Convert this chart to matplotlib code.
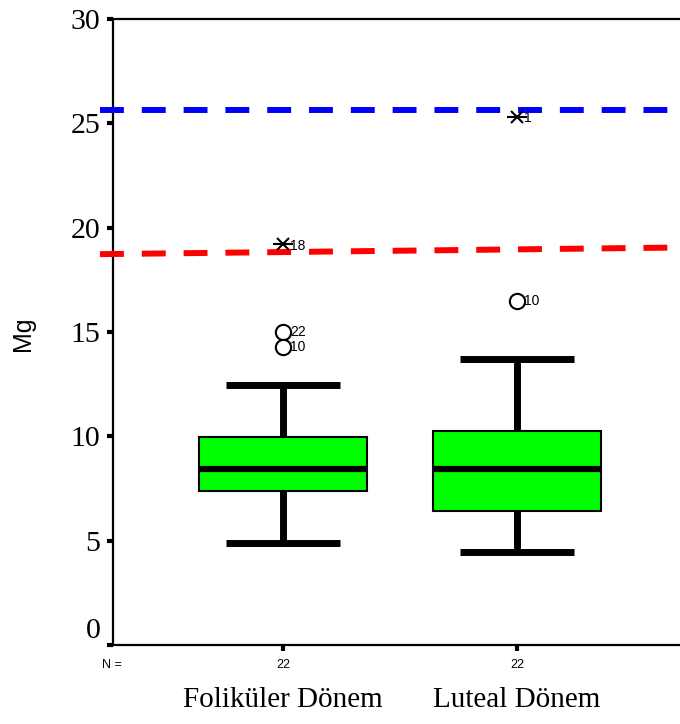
import numpy as np
import matplotlib.pyplot as plt
from matplotlib.transforms import blended_transform_factory, ScaledTranslation

# box summaries per phase (Mg)
groups = ["Foliküler Dönem", "Luteal Dönem"]
n_cases = [22, 22]
q1 = [7.38, 6.44]
median = [8.43, 8.45]
q3 = [9.98, 10.27]
whisker_low = [4.90, 4.44]
whisker_high = [12.46, 13.72]
outlier_vals = [[15.0, 14.3], [16.5]]
outlier_ids = [["22", "10"], ["10"]]
extreme_vals = [[19.2], [25.3]]
extreme_ids = [["18"], ["1"]]

# reference lines (start / end)
ref_x = [0.218, 2.70]
upper_ref = [25.62, 25.62]
lower_ref = [18.73, 19.05]

serif = "Liberation Serif"
sans = "Liberation Sans"

fig = plt.figure(figsize=(6.8, 7.24), dpi=100)
ax = fig.add_axes([113 / 680, 79 / 724, 574 / 680, 626 / 724])

pos = np.arange(1, len(groups) + 1)
stats = []
for i, g in enumerate(groups):
    stats.append(dict(label=g, q1=q1[i], med=median[i], q3=q3[i],
                      whislo=whisker_low[i], whishi=whisker_high[i], fliers=[]))

ax.bxp(stats, positions=pos, widths=0.714, capwidths=0.487, patch_artist=True,
       showfliers=False,
       boxprops=dict(facecolor="#00ff00", edgecolor="black", linewidth=1.5),
       medianprops=dict(color="black", linewidth=4.5, solid_capstyle="butt"),
       whiskerprops=dict(color="black", linewidth=5, solid_capstyle="butt"),
       capprops=dict(color="black", linewidth=5, solid_capstyle="butt"))

for i, p in enumerate(pos):
    for v, lab in zip(outlier_vals[i], outlier_ids[i]):
        ax.plot(p, v, marker="o", ms=11, mfc="white", mec="black", mew=1.5, zorder=4)
        ax.annotate(lab, (p, v), xytext=(5, 0), textcoords="offset points",
                    va="center", ha="left", fontsize=10, family=sans)
    for v, lab in zip(extreme_vals[i], extreme_ids[i]):
        # extremes: cross with a horizontal bar
        ax.plot(p, v, marker="x", ms=8, mec="black", mew=1.5, zorder=4)
        ax.plot(p, v, marker="_", ms=14, mec="black", mew=1.5, zorder=4)
        ax.annotate(lab, (p, v), xytext=(5, -1), textcoords="offset points",
                    va="center", ha="left", fontsize=10, family=sans)

ax.plot(ref_x, upper_ref, color="#0000ff", lw=4.3, ls=(0, (4, 3)), clip_on=False, zorder=3)
ax.plot(ref_x, lower_ref, color="#ff0000", lw=4.3, ls=(0, (4, 3)), clip_on=False, zorder=3)

ax.set_xlim(1 - 170 / 234, 2 + 170 / 234)
ax.set_ylim(0, 30)
ax.set_yticks([0, 5, 10, 15, 20, 25, 30])
ax.set_xticks(pos)
ax.set_xticklabels([])
ax.tick_params(axis="y", direction="out", length=4, width=3, pad=5, labelsize=21.5)
ax.tick_params(axis="x", direction="out", length=4, width=3)
for t in ax.get_yticklabels():
    t.set_family(serif)
# the zero label sits a little above its tick
zero_lab = ax.get_yticklabels()[0]
zero_lab.set_transform(zero_lab.get_transform() + ScaledTranslation(0, 12 / 72, fig.dpi_scale_trans))

ax.spines["right"].set_visible(False)
for s in ["left", "top", "bottom"]:
    ax.spines[s].set_linewidth(1.6)

fig.text(23 / 680, 1 - 334 / 724, "Mg", family=sans, fontsize=18, rotation=90,
         ha="center", va="center")

trans = blended_transform_factory(ax.transData, fig.transFigure)
fig.text(112 / 680, 1 - 665 / 724, "N =", family=sans, fontsize=9, ha="center", va="center")
for p, n, g in zip(pos, n_cases, groups):
    ax.text(p, 1 - 665 / 724, str(n), transform=trans, family=sans, fontsize=9,
            ha="center", va="center")
    ax.text(p, 1 - 700 / 724, g, transform=trans, family=serif, fontsize=21,
            ha="center", va="center")

fig.savefig("out.png", dpi=100)
